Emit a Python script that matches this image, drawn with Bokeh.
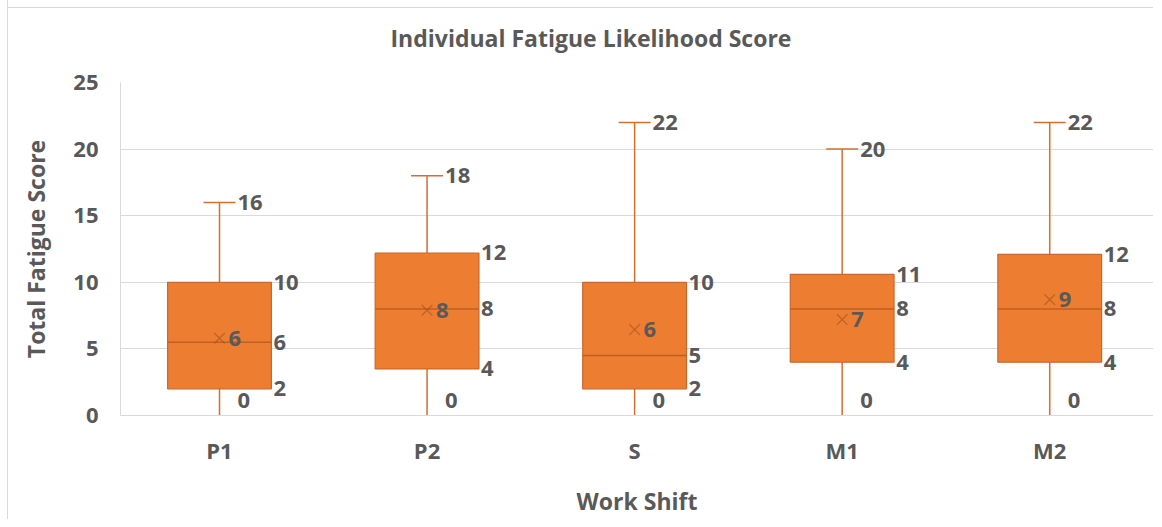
import math
from bokeh.plotting import figure
from bokeh.models import FixedTicker, Range1d
from bokeh.core.properties import value
from bokeh.embed import file_html
from bokeh.resources import INLINE

# ---- data ----
title_text = "Individual Fatigue Likelihood Score"
shifts = ["P1", "P2", "S", "M1", "M2"]
mins = [0, 0, 0, 0, 0]
q1 = [2, 3.5, 2, 4, 4]
medians = [5.5, 8, 4.5, 8, 8]
q3 = [10, 12.2, 10, 10.6, 12.1]
maxs = [16, 18, 22, 20, 22]
means = [5.8, 7.9, 6.45, 7.2, 8.7]
y_ticks = [0, 5, 10, 15, 20, 25]


def lbl(v):
    return [str(int(math.floor(x + 0.5))) for x in v]


xs = list(range(len(shifts)))
BOX_W = 0.5

FONT = "Open Sans"
GREY = "#595959"
ORANGE = "#ED7D31"
LINE = "#D0702F"

p = figure(width=1146, height=525, output_backend="svg", toolbar_location=None,
           x_range=Range1d(-0.477, 4.5), y_range=Range1d(0, 25),
           min_border_left=112, min_border_right=1, min_border_top=74, min_border_bottom=104)
p.styles = {"margin-left": "7px", "margin-top": "-6px",
            "border-left": "1px solid #D9D9D9",
            "background": "linear-gradient(to bottom, #FFFFFF 0px, #FFFFFF 13px, #D9D9D9 13px, #D9D9D9 14px, #FFFFFF 14px)"}
p.border_fill_color = None
p.outline_line_color = None
p.background_fill_color = "white"

# title
p.title.text = title_text
p.title.align = "left"
p.title.offset = 270
p.title.vertical_align = "top"
p.title.standoff = 54
p.title.text_font = FONT
p.title.text_font_style = "bold"
p.title.text_font_size = "23px"
p.title.text_color = GREY

# axes
p.xaxis.ticker = FixedTicker(ticks=xs)
p.xaxis.major_label_overrides = {i: s for i, s in enumerate(shifts)}
p.yaxis.ticker = FixedTicker(ticks=y_ticks)
for ax in (p.xaxis[0], p.yaxis[0]):
    ax.major_tick_out = 0
    ax.major_tick_in = 0
    ax.minor_tick_out = 0
    ax.minor_tick_in = 0
    ax.axis_line_color = "#D9D9D9"
    ax.major_label_text_font = FONT
    ax.major_label_text_font_style = "bold"
    ax.major_label_text_font_size = "22px"
    ax.major_label_text_color = GREY
    ax.axis_label_text_font = FONT
    ax.axis_label_text_font_style = "bold"
    ax.axis_label_text_font_size = "23px"
    ax.axis_label_text_color = GREY
p.xaxis.axis_label = "Work Shift"
p.yaxis.axis_label = "Total Fatigue Score"
p.yaxis.major_label_standoff = 22
p.yaxis.axis_label_standoff = 18
p.xaxis.major_label_standoff = 19
p.xaxis.axis_label_standoff = 17

p.xgrid.grid_line_color = None
p.ygrid.grid_line_color = "#D9D9D9"
p.ygrid.grid_line_width = 1

# whiskers
p.segment(x0=xs, y0=mins, x1=xs, y1=maxs, line_color=LINE, line_width=1.5)
p.scatter(x=xs, y=maxs, marker="dash", size=32, line_color=LINE, line_width=1.5)

# boxes
p.vbar(x=xs, width=BOX_W, top=q3, bottom=q1, fill_color=ORANGE, line_color="#C9682A", line_width=1.2)
p.segment(x0=[x - BOX_W / 2 for x in xs], y0=medians, x1=[x + BOX_W / 2 for x in xs], y1=medians,
          line_color="#BF5F22", line_width=1.5)

# mean markers
p.scatter(x=xs, y=means, marker="x", size=15, line_color="#A4521C", line_alpha=0.6, line_width=1.3)

common = dict(text_font=value(FONT), text_font_style="bold", text_font_size="22px",
              text_color=GREY, text_align="left", text_baseline="middle")
p.text(x=xs, y=maxs, text=lbl(maxs), x_offset=18, **common)
p.text(x=xs, y=q3, text=lbl(q3), x_offset=54, **common)
p.text(x=xs, y=medians, text=lbl(medians), x_offset=54, **common)
p.text(x=xs, y=q1, text=lbl(q1), x_offset=54, **common)
p.text(x=xs, y=mins, text=lbl(mins), x_offset=18, y_offset=-15, **common)
p.text(x=xs, y=means, text=lbl(means), x_offset=9, **common)

open("out.html", "w").write(file_html(p, INLINE))
